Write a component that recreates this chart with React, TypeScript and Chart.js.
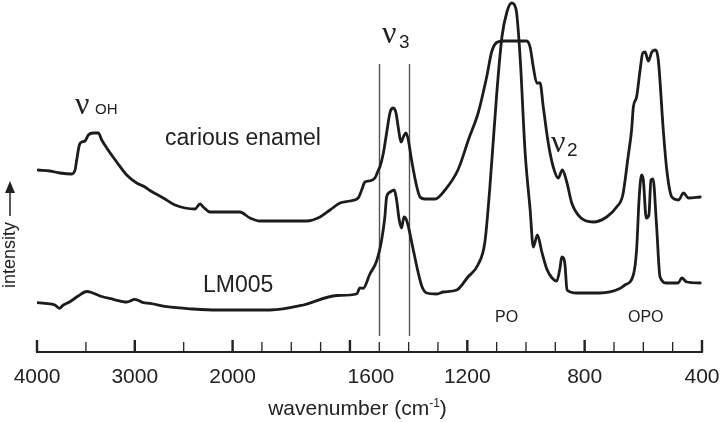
import React, { useEffect, useRef } from "react";
import { Chart, registerables } from "chart.js";

Chart.register(...registerables);

// ---- data (wavenumber in cm-1, intensity in arbitrary units) ----
const cariousWavenumber = [3987,3867,3765,3645,3611,3594,3567,3543,3509,3475,3424,3373,3338,3287,3185,3083,2981,2896,2845,2709,2589,2385,2333,2300,2231,2163,1975,1941,1907,1873,1747,1702,1668,1634,1600,1572,1560,1549,1535,1515,1503,1498,1486,1475,1463,1452,1443,1435,1426,1418,1409,1401,1390,1372,1361,1344,1310,1276,1232,1194,1163,1134,1117,1100,1077,998,986,975,963,952,941,924,907,890,876,861,844,816,771,725,691,670,652,640,634,623,611,602,594,583,571,560,549,532,520,503,480,463,446,406];
const cariousIntensity = [182,181,179,178,182,192,207,210,211,217,219,219,212,204,190,177,169,165,161.5,154,147,143,148,145,140,140,140,134,131,131,131,135,142,149,151,154,162,170,171,174,182,185,199,219,240,244,239,224,210,215,219,212,192,165,155,153,153,162,182,214,239,275,300,309.5,311,311,305,285,269,269,245,209,185,174,182,170,149,135,130,135,145,157,195,222,245,255,282,299,300,291,300,302,292,222,182,155,152,159,154,155];

const lm005Wavenumber = [4000,3918,3816,3772,3731,3663,3578,3492,3441,3356,3220,3083,2998,2913,2845,2674,2402,2162,1873,1759,1645,1577,1566,1555,1532,1509,1492,1481,1475,1463,1449,1441,1432,1424,1416,1406,1384,1367,1354,1338,1304,1282,1236,1198,1164,1140,1123,1100,1082,1065,1049,1034,1020,1003,986,975,961,946,929,911,895,884,878,872,867,860,827,748,680,663,634,623,614,606,600,590,581,574,567,555,543,520,481,469,452,406];
const lm005Intensity = [49.3,48.7,47,43.7,47,50.3,56,60.5,59.5,56,52.7,50,52.7,49.3,48.7,45.3,43,42,42,47,56.5,58,64,63.7,78,91,112,135,155,160,162,152,132,124,135,131,102,79,65,59,58,60,62,75,87,110,165,257,315,340,349,343,295,200,143,105,117,100,83,74,71,84,95,94,87,62,59,59,63.5,67,77,102,155,177,172,134,137,172,173,127,75,69,69,74,70,69];

const majorTicks = [4000, 3000, 2000, 1600, 1200, 800, 400];
const tickLabels = ["4000", "3000", "2000", "1600", "1200", "800", "400"];
const minorTicks = [3500, 2500, 1900, 1800, 1700, 1500, 1400, 1300, 1100, 1000, 900, 700, 600, 500];
const markerLines = [1500, 1400];

// Spectrometer abscissa: scale expands 3x below 2000 cm-1
function toAxis(w: number): number {
  return w >= 2000 ? 4000 - w : 2000 + 3 * (2000 - w);
}

const SANS = '"Liberation Sans", Arial, Helvetica, sans-serif';
const SERIF = '"Liberation Serif", "Times New Roman", serif';

const decorPlugin = {
  id: "decor",
  beforeDatasetsDraw(chart: any) {
    const ctx = chart.ctx;
    const x = chart.scales.x;
    ctx.save();
    ctx.strokeStyle = "#555";
    ctx.lineWidth = 1.4;
    for (const w of markerLines) {
      const px = Math.round(x.getPixelForValue(toAxis(w))) + 0.5;
      ctx.beginPath();
      ctx.moveTo(px, 64);
      ctx.lineTo(px, 336);
      ctx.stroke();
    }
    ctx.restore();
  },
  afterDraw(chart: any) {
    const ctx = chart.ctx;
    const x = chart.scales.x;
    const area = chart.chartArea;
    const axisY = area.bottom;
    ctx.save();
    ctx.fillStyle = "#222";
    ctx.strokeStyle = "#222";
    // axis line
    ctx.lineWidth = 2;
    ctx.beginPath();
    ctx.moveTo(x.getPixelForValue(toAxis(4000)) - 1, axisY);
    ctx.lineTo(x.getPixelForValue(toAxis(400)) + 1, axisY);
    ctx.stroke();
    // major ticks
    ctx.lineWidth = 2.4;
    for (const w of majorTicks) {
      const px = x.getPixelForValue(toAxis(w));
      ctx.beginPath();
      ctx.moveTo(px, axisY - 12);
      ctx.lineTo(px, axisY);
      ctx.stroke();
    }
    ctx.lineWidth = 1.3;
    for (const w of minorTicks) {
      const px = x.getPixelForValue(toAxis(w));
      ctx.beginPath();
      ctx.moveTo(px, axisY - 10);
      ctx.lineTo(px, axisY);
      ctx.stroke();
    }
    // tick labels
    ctx.font = "21px " + SANS;
    ctx.textAlign = "center";
    ctx.textBaseline = "alphabetic";
    majorTicks.forEach((w, i) => {
      let px = x.getPixelForValue(toAxis(w));
      if (w === 1600) px += 21;
      ctx.fillText(tickLabels[i], px, 383);
    });
    // axis title with superscript
    const main = "wavenumber (cm";
    const sup = "-1";
    const close = ")";
    ctx.font = "21px " + SANS;
    const wMain = ctx.measureText(main).width;
    const wClose = ctx.measureText(close).width;
    ctx.font = "12px " + SANS;
    const wSup = ctx.measureText(sup).width;
    const total = wMain + wSup + wClose;
    let tx = 357.5 - total / 2;
    ctx.textAlign = "left";
    ctx.font = "21px " + SANS;
    ctx.fillText(main, tx, 415);
    tx += wMain;
    ctx.font = "12px " + SANS;
    ctx.fillText(sup, tx, 407);
    tx += wSup;
    ctx.font = "21px " + SANS;
    ctx.fillText(close, tx, 415);

    // curve labels
    ctx.font = "23px " + SANS;
    ctx.fillText("carious enamel", 165, 145);
    ctx.fillText("LM005", 203, 292);
    ctx.font = "16px " + SANS;
    ctx.fillText("PO", 495, 322);
    ctx.fillText("OPO", 628, 322);

    // nu labels
    ctx.font = "32px " + SERIF;
    ctx.fillText("\u03BD", 75, 114);
    ctx.font = "15px " + SANS;
    ctx.fillText("OH", 95, 114);

    ctx.font = "32px " + SERIF;
    ctx.fillText("\u03BD", 382, 43);
    ctx.font = "19px " + SANS;
    ctx.fillText("3", 399, 48);

    ctx.font = "32px " + SERIF;
    ctx.fillText("\u03BD", 551, 152);
    ctx.font = "19px " + SANS;
    ctx.fillText("2", 567, 156);

    // y-axis label with arrow
    ctx.save();
    ctx.translate(15, 255);
    ctx.rotate(-Math.PI / 2);
    ctx.font = "18px " + SANS;
    ctx.textAlign = "center";
    ctx.fillText("intensity", 0, 0);
    ctx.restore();
    ctx.lineWidth = 1.5;
    ctx.beginPath();
    ctx.moveTo(10, 216);
    ctx.lineTo(10, 190);
    ctx.stroke();
    ctx.beginPath();
    ctx.moveTo(10, 181);
    ctx.lineTo(5, 193);
    ctx.lineTo(15, 193);
    ctx.closePath();
    ctx.fill();
    ctx.restore();
  },
};

export default function App() {
  const canvasRef = useRef<HTMLCanvasElement | null>(null);

  useEffect(() => {
    document.body.style.margin = "0";
    const canvas = canvasRef.current;
    if (!canvas) return;
    const toPoints = (ws: number[], vs: number[]) =>
      ws.map((w, i) => ({ x: toAxis(w), y: vs[i] }));
    const chart = new Chart(canvas, {
      type: "line",
      data: {
        datasets: [
          {
            label: "carious enamel",
            data: toPoints(cariousWavenumber, cariousIntensity),
            borderColor: "#1c1c1c",
            borderWidth: 2.8,
            pointRadius: 0,
            cubicInterpolationMode: "monotone",
            borderJoinStyle: "round",
            borderCapStyle: "round",
            fill: false,
          },
          {
            label: "LM005",
            data: toPoints(lm005Wavenumber, lm005Intensity),
            borderColor: "#1c1c1c",
            borderWidth: 2.8,
            pointRadius: 0,
            cubicInterpolationMode: "monotone",
            borderJoinStyle: "round",
            borderCapStyle: "round",
            fill: false,
          },
        ],
      },
      options: {
        responsive: false,
        animation: false,
        layout: { padding: { left: 37, right: 18, top: 0, bottom: 70 } },
        plugins: { legend: { display: false }, tooltip: { enabled: false } },
        scales: {
          x: { type: "linear", min: 0, max: 6800, display: false },
          y: { type: "linear", min: 0, max: 352, display: false },
        },
      },
      plugins: [decorPlugin],
    } as any);
    return () => chart.destroy();
  }, []);

  return (
    <div style={{ position: "absolute", left: 0, top: 0, width: 720, height: 422, background: "#fff" }}>
      <canvas ref={canvasRef} width={720} height={422} />
    </div>
  );
}
